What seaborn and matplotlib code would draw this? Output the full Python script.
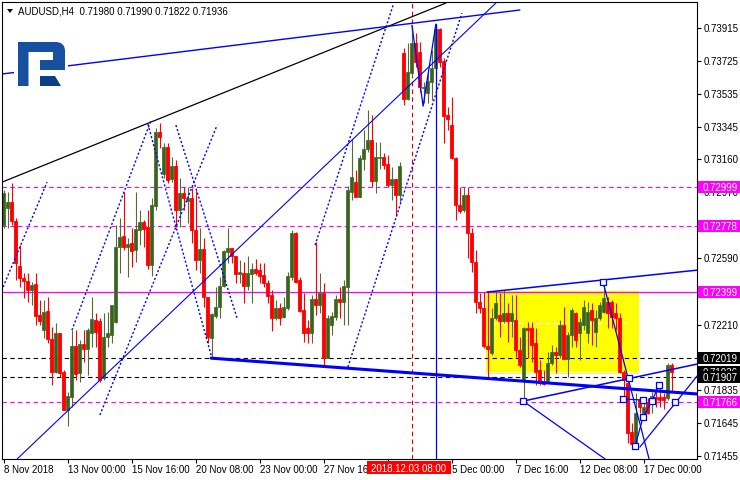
import numpy as np
import pandas as pd
import matplotlib
matplotlib.use("Agg")
import matplotlib.pyplot as plt
import seaborn as sns
from matplotlib.patches import Rectangle, Polygon
from matplotlib.transforms import blended_transform_factory

sns.set_theme(style="white")
plt.rcParams['font.family'] = ['Liberation Sans', 'DejaVu Sans']

# ---------------- data (AUDUSD H4) ----------------
opens = [
0.72782, 0.72880, 0.72914, 0.72805, 0.72546, 0.72477, 0.72460, 0.72408, 0.72443, 0.72265,
0.72178, 0.72288, 0.72127, 0.71937, 0.72161, 0.71937, 0.71718, 0.71793, 0.72086, 0.71931,
0.72098, 0.72069, 0.72161, 0.72236, 0.72230, 0.71902, 0.72138, 0.72150, 0.72224, 0.72656,
0.72719, 0.72656, 0.72679, 0.72638, 0.72753, 0.72799, 0.72771, 0.72552, 0.72891, 0.73317,
0.73075, 0.73231, 0.73047, 0.73121, 0.72868, 0.72966, 0.72920, 0.72937, 0.72753, 0.72581,
0.72644, 0.72368, 0.72132, 0.72259, 0.72311, 0.72431, 0.72627, 0.72650, 0.72604, 0.72500,
0.72506, 0.72431, 0.72500, 0.72529, 0.72523, 0.72495, 0.72449, 0.72380, 0.72247, 0.72305,
0.72253, 0.72305, 0.72483, 0.72736, 0.72466, 0.72293, 0.72190, 0.72161, 0.72357, 0.72322,
0.72391, 0.72017, 0.72207, 0.72253, 0.72357, 0.72339, 0.72426, 0.72972, 0.73029, 0.72943,
0.73162, 0.73219, 0.73271, 0.73035, 0.73168, 0.73173, 0.73133, 0.73012, 0.73047, 0.72955,
0.73771, 0.73507, 0.73656, 0.73829, 0.73777, 0.73570, 0.73541, 0.73604, 0.73685, 0.73909,
0.73725, 0.73415, 0.73357, 0.73168, 0.72897, 0.72868, 0.72955, 0.72736, 0.72569, 0.72339,
0.72305, 0.72086, 0.72046, 0.72247, 0.72265, 0.72230, 0.72276, 0.72230, 0.72236, 0.72063,
0.71891, 0.72190, 0.72190, 0.72104, 0.71948, 0.71879, 0.71885, 0.71989, 0.72052, 0.72035,
0.72207, 0.72012, 0.72150, 0.72276, 0.72161, 0.72207, 0.72161, 0.72293, 0.72167, 0.72247,
0.72282, 0.72339, 0.72339, 0.72276, 0.72247, 0.71937, 0.71874, 0.71592, 0.71517, 0.71776,
0.71701, 0.71764, 0.71759, 0.71793, 0.71793, 0.71793, 0.71787, 0.71980]

highs = [
0.72983, 0.72972, 0.73024, 0.72822, 0.72667, 0.72506, 0.72506, 0.72454, 0.72506, 0.72351,
0.72351, 0.72368, 0.72196, 0.72219, 0.72161, 0.71948, 0.71822, 0.72178, 0.72178, 0.72121,
0.72178, 0.72190, 0.72368, 0.72276, 0.72247, 0.72276, 0.72282, 0.72322, 0.72782, 0.72822,
0.72972, 0.72707, 0.72765, 0.72972, 0.72868, 0.72811, 0.72868, 0.72937, 0.73340, 0.73369,
0.73254, 0.73254, 0.73173, 0.73156, 0.73052, 0.73001, 0.73001, 0.72995, 0.72983, 0.72765,
0.72707, 0.72368, 0.72276, 0.72426, 0.72483, 0.72638, 0.72765, 0.72650, 0.72604, 0.72581,
0.72569, 0.72604, 0.72564, 0.72587, 0.72564, 0.72564, 0.72466, 0.72408, 0.72351, 0.72334,
0.72368, 0.72512, 0.72753, 0.72742, 0.72483, 0.72391, 0.72236, 0.72380, 0.72684, 0.72506,
0.72449, 0.72265, 0.72282, 0.72380, 0.72426, 0.72466, 0.73006, 0.73277, 0.73098, 0.73185,
0.73328, 0.73443, 0.73415, 0.73259, 0.73259, 0.73196, 0.73185, 0.73116, 0.73047, 0.73144,
0.73800, 0.73829, 0.73932, 0.73886, 0.73834, 0.73604, 0.73656, 0.73788, 0.73938, 0.73915,
0.73742, 0.73461, 0.73518, 0.73173, 0.73001, 0.73001, 0.73001, 0.72765, 0.72638, 0.72391,
0.72397, 0.72397, 0.72305, 0.72397, 0.72391, 0.72408, 0.72334, 0.72380, 0.72380, 0.72138,
0.72196, 0.72224, 0.72224, 0.72190, 0.72006, 0.71948, 0.72052, 0.72092, 0.72081, 0.72236,
0.72311, 0.72167, 0.72305, 0.72282, 0.72247, 0.72351, 0.72339, 0.72334, 0.72293, 0.72339,
0.72449, 0.72368, 0.72351, 0.72334, 0.72276, 0.71948, 0.71891, 0.71644, 0.71816, 0.71793,
0.71787, 0.71787, 0.71822, 0.71851, 0.71851, 0.71816, 0.71989, 0.71990]

lows = [
0.72765, 0.72765, 0.72782, 0.72466, 0.72426, 0.72362, 0.72339, 0.72322, 0.72207, 0.72207,
0.72132, 0.72104, 0.71862, 0.71931, 0.71908, 0.71718, 0.71626, 0.71736, 0.71891, 0.71879,
0.71994, 0.71920, 0.72081, 0.72081, 0.71879, 0.71891, 0.72081, 0.72104, 0.72219, 0.72506,
0.72638, 0.72483, 0.72541, 0.72569, 0.72667, 0.72656, 0.72529, 0.72489, 0.72868, 0.73225,
0.73052, 0.73024, 0.73029, 0.72771, 0.72771, 0.72868, 0.72794, 0.72679, 0.72523, 0.72506,
0.72311, 0.72104, 0.72017, 0.72247, 0.72247, 0.72426, 0.72564, 0.72564, 0.72449, 0.72449,
0.72334, 0.72408, 0.72334, 0.72495, 0.72449, 0.72426, 0.72334, 0.72173, 0.72236, 0.72207,
0.72247, 0.72293, 0.72466, 0.72449, 0.72282, 0.72109, 0.72104, 0.72104, 0.72265, 0.72276,
0.71977, 0.72017, 0.72150, 0.72236, 0.72247, 0.72207, 0.72207, 0.72926, 0.72943, 0.72943,
0.73098, 0.73202, 0.73001, 0.72966, 0.73104, 0.73104, 0.73001, 0.72926, 0.72834, 0.72914,
0.73472, 0.73501, 0.73633, 0.73691, 0.73547, 0.73484, 0.73484, 0.73501, 0.73673, 0.73691,
0.73254, 0.73328, 0.73162, 0.72811, 0.72851, 0.72857, 0.72592, 0.72512, 0.72276, 0.72276,
0.72075, 0.71908, 0.72035, 0.72236, 0.72138, 0.72219, 0.72109, 0.72138, 0.72023, 0.71966,
0.71787, 0.72017, 0.71994, 0.71862, 0.71862, 0.71862, 0.71879, 0.71977, 0.71931, 0.72017,
0.72012, 0.71908, 0.72081, 0.72081, 0.72006, 0.72178, 0.72104, 0.72092, 0.72081, 0.72236,
0.72276, 0.72190, 0.72190, 0.72178, 0.71931, 0.71764, 0.71529, 0.71506, 0.71506, 0.71701,
0.71695, 0.71695, 0.71701, 0.71736, 0.71736, 0.71724, 0.71776, 0.71822]

closes = [
0.72966, 0.72914, 0.72805, 0.72564, 0.72477, 0.72460, 0.72408, 0.72437, 0.72259, 0.72230,
0.72282, 0.72127, 0.71937, 0.72161, 0.71931, 0.71718, 0.71799, 0.72086, 0.71925, 0.72098,
0.72069, 0.72178, 0.72242, 0.72167, 0.71891, 0.72138, 0.72161, 0.72322, 0.72656, 0.72713,
0.72656, 0.72673, 0.72633, 0.72759, 0.72799, 0.72759, 0.72552, 0.72897, 0.73317, 0.73288,
0.73231, 0.73041, 0.73121, 0.72868, 0.72966, 0.72937, 0.72937, 0.72753, 0.72581, 0.72644,
0.72368, 0.72138, 0.72270, 0.72311, 0.72431, 0.72633, 0.72650, 0.72604, 0.72500, 0.72512,
0.72431, 0.72506, 0.72529, 0.72506, 0.72489, 0.72449, 0.72374, 0.72247, 0.72305, 0.72247,
0.72311, 0.72489, 0.72736, 0.72454, 0.72288, 0.72161, 0.72161, 0.72357, 0.72322, 0.72391,
0.72017, 0.72247, 0.72259, 0.72357, 0.72339, 0.72431, 0.72983, 0.73058, 0.72943, 0.73168,
0.73219, 0.73271, 0.73035, 0.73173, 0.73173, 0.73127, 0.73012, 0.73047, 0.72955, 0.73121,
0.73507, 0.73662, 0.73829, 0.73719, 0.73576, 0.73576, 0.73610, 0.73685, 0.73909, 0.73719,
0.73409, 0.73392, 0.73168, 0.72897, 0.72863, 0.72955, 0.72736, 0.72569, 0.72339, 0.72305,
0.72086, 0.72069, 0.72247, 0.72334, 0.72230, 0.72276, 0.72230, 0.72276, 0.72063, 0.71977,
0.72190, 0.72178, 0.72092, 0.71937, 0.71874, 0.71868, 0.71989, 0.72052, 0.72035, 0.72207,
0.72012, 0.72150, 0.72293, 0.72121, 0.72224, 0.72311, 0.72282, 0.72236, 0.72247, 0.72322,
0.72362, 0.72276, 0.72253, 0.72247, 0.71937, 0.71891, 0.71586, 0.71523, 0.71701, 0.71736,
0.71736, 0.71701, 0.71799, 0.71782, 0.71776, 0.71776, 0.71977, 0.71936]

# axis ticks (labels hidden under price tags are left blank)
ytick_values = [0.73915, 0.73725, 0.73535, 0.73345, 0.73160, 0.72970, 0.72780,
                0.72590, 0.72400, 0.72210, 0.72020, 0.71835, 0.71645, 0.71455]
ytick_hidden = [0.72780, 0.72400, 0.72020]
xtick_bars = [0, 16, 32, 48, 64, 80, 96, 112, 128, 144, 160]
xtick_labels = ["8 Nov 2018", "13 Nov 00:00", "15 Nov 16:00", "20 Nov 08:00",
                "23 Nov 00:00", "27 Nov 16:00", "", "5 Dec 00:00",
                "7 Dec 16:00", "12 Dec 08:00", "17 Dec 00:00"]
crosshair_bar = 102
crosshair_label = "2018.12.03 08:00"

# horizontal levels
magenta_dashed_levels = [0.72999, 0.72778, 0.71766]
magenta_solid_levels = [0.72399]
black_dashed_levels = [0.72019, 0.71907]
bid_price = 0.71936

# drawn objects (bar index, price)
black_trend = ([-0.375, 110.6], [0.73029, 0.74059])
blue_top = ([-0.375, 129.1], [0.73651, 0.74019])
blue_rise = ([3.4, 123.1], [0.71437, 0.74059])
blue_thick = ([51.9, 173.4], [0.72017, 0.71811])
chan_upper = ([120.9, 173.4], [0.72397, 0.72523])
chan_lower = ([129.9, 173.4], [0.71770, 0.71983])
line_a = ([149.9, 161.4], [0.72454, 0.71437])
line_b = ([129.9, 150.4], [0.71770, 0.71437])
line_c = ([159.1, 173.4], [0.71506, 0.71914])
zig1 = ([157.9, 159.9, 162.1, 163.9], [0.71512, 0.71678, 0.71770, 0.71862])
zig2 = ([154.9, 159.9], [0.71782, 0.71776])
peak_v = ([102.1, 104.9, 108.1], [0.73932, 0.73466, 0.73938])
peak_vertical = ([108.1, 108.1], [0.73938, 0.71437])
dotted_lines = [
    ([-0.1, 10.9], [0.72426, 0.73029]),
    ([17.1, 36.9], [0.72178, 0.73386]),
    ([36.1, 52.1], [0.73363, 0.72017]),
    ([43.1, 58.4], [0.73357, 0.72247]),
    ([24.1, 53.4], [0.71690, 0.73357]),
    ([77.9, 97.4], [0.72667, 0.74047]),
    ([86.1, 114.6], [0.71966, 0.74001]),
]
pivot_bars = [149.9, 129.9, 154.9, 156.4, 157.9, 159.9, 159.9, 162.1, 163.9, 167.9]
pivot_prices = [0.72454, 0.71770, 0.71782, 0.71902, 0.71512, 0.71776, 0.71678, 0.71770, 0.71862, 0.71764]
box_bars = (120.6, 158.9)
box_prices = (0.71925, 0.72403)
box_mid_level = 0.72219

# ---------------- figure ----------------
FW, FH = 740, 480
fig = plt.figure(figsize=(FW / 100, FH / 100), dpi=100)
fig.patch.set_facecolor("white")
ax = fig.add_axes([2 / FW, 21 / FH, 695 / FW, 457 / FH])
ax.set_facecolor("white")
ax.set_xlim(-0.375, 173.375)
ax.set_ylim(0.71437, 0.74065)

df = pd.DataFrame({"o": opens, "h": highs, "l": lows, "c": closes})
df["i"] = np.arange(len(df))
up = df["c"] >= df["o"]

# yellow rectangle + white lines inside it
ax.add_patch(Rectangle((box_bars[0], box_prices[0]), box_bars[1] - box_bars[0],
                       box_prices[1] - box_prices[0], fc="#ffff00", ec="none", zorder=1))
ax.plot([box_bars[0] + 1.5, box_bars[1] - 3], [box_mid_level] * 2, color="white",
        lw=0.9, ls=(0, (4, 3)), zorder=1.5)
ax.plot(list(box_bars), [bid_price] * 2, color="white", lw=0.9, zorder=1.5)

# horizontal levels
for v in magenta_dashed_levels:
    ax.axhline(v, color="#ff00ff", lw=0.8, ls=(0, (4, 3)), zorder=2)
for v in magenta_solid_levels:
    ax.axhline(v, color="#ff00ff", lw=0.9, zorder=2)
for v in black_dashed_levels:
    ax.axhline(v, color="black", lw=0.8, ls=(0, (4, 3)), zorder=2)
ax.axvline(crosshair_bar, color="#e00000", lw=0.8, ls=(0, (4, 3)), zorder=2)

# candles
bull_face, bull_edge, bear = "#2d6a1e", "#556b2f", "#ff0000"
wick_colors = np.where(up, bull_edge, bear)
ax.vlines(df["i"], df["l"], df["h"], colors=wick_colors, lw=0.8, zorder=3)
body_bottom = np.minimum(df["o"], df["c"])
body_h = np.maximum(np.abs(df["c"] - df["o"]), 0.00006)
ax.bar(df["i"][up], body_h[up], bottom=body_bottom[up], width=0.75,
       color=bull_face, edgecolor=bull_edge, linewidth=0.6, zorder=3.5)
ax.bar(df["i"][~up], body_h[~up], bottom=body_bottom[~up], width=0.75,
       color=bear, edgecolor=bear, linewidth=0.6, zorder=3.5)

# trend lines
ax.plot(*black_trend, color="black", lw=0.9, zorder=4)
ax.plot(*blue_top, color="#0000ff", lw=1.0, zorder=4)
ax.plot(*blue_rise, color="#0000ff", lw=0.8, zorder=4)
ax.plot(*blue_thick, color="#0000ff", lw=2.2, zorder=4)
for ln in (chan_upper, chan_lower):
    ax.plot(*ln, color="#0000ff", lw=1.1, zorder=4)
for ln in (line_a, line_b, line_c, zig1, zig2, peak_v, peak_vertical):
    ax.plot(*ln, color="#0000ff", lw=0.9, zorder=4)
for ln in dotted_lines:
    ax.plot(*ln, color="#0000ff", lw=1.0, ls=(0, (1.5, 1.5)), zorder=4)

piv = pd.DataFrame({"bar": pivot_bars, "price": pivot_prices})
sns.scatterplot(data=piv, x="bar", y="price", marker="s", s=22, facecolor="white",
                edgecolor="#0000ff", linewidth=0.9, zorder=5, ax=ax, legend=False)
ax.set_xlabel("")
ax.set_ylabel("")

# axes styling
for sp in ax.spines.values():
    sp.set_color("black")
    sp.set_linewidth(0.8)
    sp.set_zorder(6)
ax.yaxis.tick_right()
ax.set_yticks(ytick_values)
ax.set_yticklabels(["" if v in ytick_hidden else f"{v:.5f}" for v in ytick_values])
ax.set_xticks(xtick_bars)
ax.set_xticklabels(xtick_labels)
for lab in ax.get_xticklabels():
    lab.set_horizontalalignment("left")
ax.tick_params(axis="y", which="both", right=True, left=False, direction="out",
               length=3, width=0.8, pad=2, labelsize=7, colors="black")
ax.tick_params(axis="x", which="both", bottom=True, direction="out",
               length=3, width=0.8, pad=1.5, labelsize=7, colors="black")
ax.grid(False)

# price labels on the right axis
trans = blended_transform_factory(ax.transAxes, ax.transData)
hh = 12 / 17390
def price_tag(val, bg, z):
    ax.add_patch(Rectangle((1.0015, val - hh / 2), 0.062, hh, transform=trans,
                           fc=bg, ec="none", clip_on=False, zorder=z))
    ax.text(1.0086, val, f"{val:.5f}", transform=trans, color="white", fontsize=7,
            va="center_baseline", ha="left", clip_on=False, zorder=z + 0.1)

z = 10
for v in magenta_dashed_levels + magenta_solid_levels:
    price_tag(v, "#ff00ff", z); z += 1
for v in [bid_price] + black_dashed_levels:
    price_tag(v, "black", z); z += 1

# crosshair time label
fig.add_artist(Rectangle((367 / FW, 1 - 474 / FH), 84 / FW, 13 / FH,
                         transform=fig.transFigure, fc="#ff0000", ec="none", zorder=5))
fig.text(409 / FW, 1 - 467.5 / FH, crosshair_label, color="white", fontsize=7,
         ha="center", va="center_baseline", zorder=6)

# title
fig.add_artist(Polygon([(7 / FW, 1 - 9 / FH), (13 / FW, 1 - 9 / FH), (10 / FW, 1 - 13 / FH)],
                       closed=True, transform=fig.transFigure, fc="black", ec="none", zorder=5))
title = "AUDUSD,H4  " + " ".join(f"{v:.5f}" for v in (opens[-1], highs[-1], lows[-1], closes[-1]))
fig.text(18 / FW, 1 - 11 / FH, title, fontsize=7, ha="left", va="center_baseline",
         color="black", zorder=6)

# logo
def P(pts):
    return [(x / FW, 1 - y / FH) for x, y in pts]
fig.add_artist(Rectangle((14 / FW, 1 - 90 / FH), 54 / FW, 52 / FH, transform=fig.transFigure,
                         fc="white", ec="none", zorder=4))
logo_top = [(18, 42), (57, 42), (61, 43), (64, 46), (65, 50), (65, 70), (40, 70), (40, 60),
            (53, 60), (53, 52), (28.5, 52), (28.5, 86), (18, 86)]
fig.add_artist(Polygon(P(logo_top), closed=True, transform=fig.transFigure,
                       fc="#16509e", ec="none", zorder=5))
fig.add_artist(Polygon(P([(40, 76), (55, 76), (61, 86), (40, 86)]), closed=True,
                       transform=fig.transFigure, fc="#0d3f86", ec="none", zorder=5))

fig.savefig("out.png", dpi=100, facecolor="white")
